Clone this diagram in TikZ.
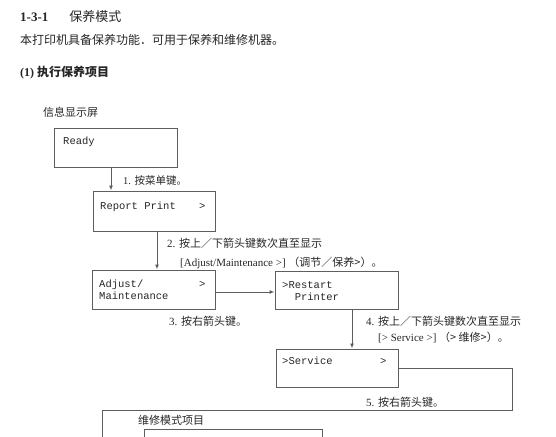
\documentclass[tikz,border=0pt]{standalone}
\usepackage{fontspec}
\setmainfont{Liberation Serif}
\setmonofont{Liberation Mono}
\newfontfamily\cjk{Noto Sans CJK SC}
\usetikzlibrary{arrows.meta}
\definecolor{txt}{HTML}{262626}
\definecolor{ln}{HTML}{5e5e5e}
\tikzset{
  x=1pt,y=-1pt,
  box/.style={draw=ln,line width=1pt,minimum width=#1,inner sep=0pt},
  lbl/.style={anchor=base west,inner sep=0pt,text=txt,font=\fontsize{11}{13}\selectfont},
  mono/.style={anchor=base west,inner sep=0pt,text=txt,font=\ttfamily\fontsize{10.5}{12}\selectfont},
  conn/.style={draw=ln,line width=1pt},
  arr/.style={conn,-{Latex[length=5pt,width=4pt]}}
}
\begin{document}
\begin{tikzpicture}
\useasboundingbox (0,0) rectangle (556,436);
% headings
\node[lbl,font=\fontsize{13}{15}\selectfont] (t1) at (20,22) {\textbf{1-3-1}\hspace{21pt}{\cjk 保养模式}};
\node[lbl,font=\fontsize{12}{14}\selectfont] (t2) at (20,44.5) {\cjk 本打印机具备保养功能．可用于保养和维修机器。};
\node[lbl,font=\fontsize{12}{14}\selectfont] (t3) at (20,76.5) {\textbf{(1)} {\cjk\bfseries 执行保养项目}};
\node[lbl] (t4) at (43,116) {\cjk 信息显示屏};
% boxes
\node[box=123pt,minimum height=39pt] (ready) at (115.5,147.5) {};
\node[box=122pt,minimum height=40pt] (rp) at (154,211) {};
\node[box=123pt,minimum height=39pt] (adj) at (153.5,289.5) {};
\node[box=123pt,minimum height=38pt] (rs) at (336.5,290) {};
\node[box=122pt,minimum height=38pt] (sv) at (337,368) {};
% box texts
\node[mono] (readyt) at (63,144.5) {Ready};
\node[mono] (rpt) at (100,209.5) {Report Print};
\node[mono] (rpg) at (199,209.5) {>};
\node[mono] (adjt1) at (99,287.5) {Adjust/};
\node[mono] (adjg) at (199,287.5) {>};
\node[mono] (adjt2) at (99,299.5) {Maintenance};
\node[mono] (rst1) at (282,288.5) {>Restart};
\node[mono] (rst2) at (282,300.5) {\ \ Printer};
\node[mono] (svt) at (282,364.5) {>Service};
\node[mono] (svg) at (380,364.5) {>};
% connectors
\draw[arr] (ready.south -| 111,0) -- (rp.north -| 111,0);
\draw[arr] (rp.south -| 157,0) -- (adj.north -| 157,0);
\draw[arr] (adj.east |- 0,292) -- (rs.west |- 0,292);
\draw[arr] (rs.south -| 352,0) -- (sv.north -| 352,0);
\coordinate (c1) at (512,368);
\coordinate (c2) at (512,410);
\coordinate (c3) at (102,410);
\coordinate (c4) at (102,437);
\draw[conn] (sv.east |- c1) -- (c1) -- (c2) -- (c3) -- (c4);
\coordinate (i1) at (144,437);
\coordinate (i2) at (144,429);
\coordinate (i3) at (322,429);
\coordinate (i4) at (322,437);
\draw[conn] (i1) -- (i2) -- (i3) -- (i4);
% step labels
\node[lbl,font=\fontsize{10.5}{12}\selectfont] (l1) at (123,184) {1. {\cjk 按菜单键。}};
\node[lbl] (l2a) at (167,247) {2. {\cjk 按上／下箭头键数次直至显示}};
\node[lbl] (l2b) at (180,266) {[Adjust/Maintenance >] {\cjk （调节／保养>）。}};
\node[lbl] (l3) at (169,325) {3. {\cjk 按右箭头键。}};
\node[lbl] (l4a) at (366,325) {4. {\cjk 按上／下箭头键数次直至显示}};
\node[lbl] (l4b) at (378,341) {[> Service >] {\cjk （> 维修>）。}};
\node[lbl] (l5) at (366,406) {5. {\cjk 按右箭头键。}};
\node[lbl] (l6) at (138,424) {\cjk 维修模式项目};
\end{tikzpicture}
\end{document}
